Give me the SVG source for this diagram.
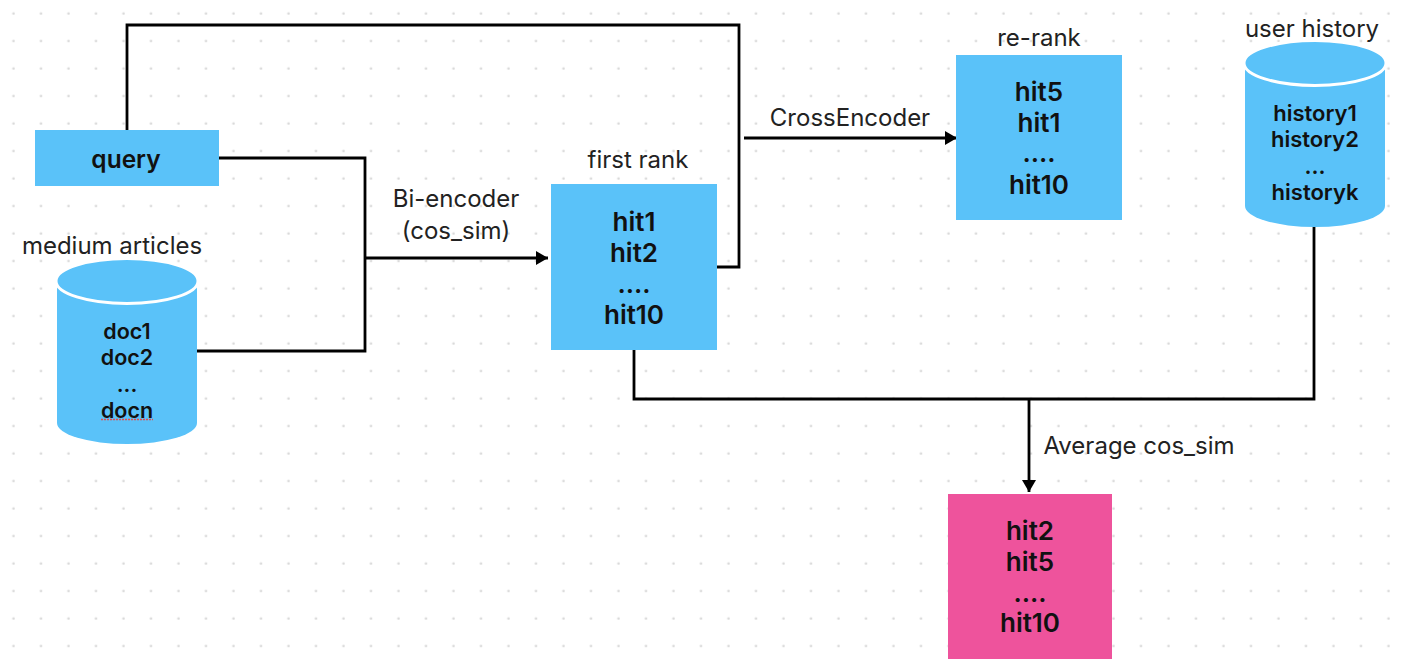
<svg xmlns="http://www.w3.org/2000/svg" width="1402" height="662" viewBox="0 0 1402 662">
<style>
text{font-family:Inter,"Liberation Sans",sans-serif;text-anchor:middle;fill:#111}
.b{font-weight:600;font-size:26px}
.q{font-weight:600;font-size:24.5px}
.l{font-size:24px;fill:#222}
.c{font-weight:600;font-size:21.500px}
.h{font-weight:600;font-size:22px}
.blue{fill:#5ac2f9}
.line{fill:none;stroke:#000;stroke-width:2.8}
</style>
<defs>
<pattern id="dots" width="27.5" height="27.5" patternUnits="userSpaceOnUse" x="0" y="0"><circle cx="13.5" cy="13.5" r="1.3" fill="#d8d8d8"/></pattern>
<marker id="arrow" markerUnits="userSpaceOnUse" markerWidth="14" markerHeight="15" refX="12" refY="7" orient="auto"><path d="M0 0L12 7L0 14Z" fill="#000"/></marker>
</defs>
<rect width="1402" height="662" fill="#fff"/>
<rect id="grid" width="1402" height="662" fill="url(#dots)"/>
<g id="connectors">
<path class="line" d="M127 130V25H739V267H716"/>
<path class="line" d="M219 158H365V351H196"/>
<path class="line" d="M365 258H548" marker-end="url(#arrow)"/>
<path class="line" d="M744 138H957" marker-end="url(#arrow)"/>
<path class="line" d="M634 350V399H1314V226"/>
<path class="line" d="M1029 399V492" marker-end="url(#arrow)"/>
</g>
<g id="query"><rect class="blue" x="35" y="130" width="184" height="56"/><text class="q" x="126" y="168">query</text></g>
<g id="medium-articles">
<text class="l" x="112" y="254">medium articles</text>
<path class="blue" d="M57 281V423A70 21 0 0 0 197 423V281Z"/>
<ellipse class="blue" cx="127" cy="281" rx="71" ry="22.500" stroke="#fff" stroke-width="3"/>
<text class="c" x="127" y="339">doc1</text><text class="c" x="127" y="365">doc2</text><text class="c" x="127" y="392">...</text><text class="c" x="127" y="418">docn</text>
<path d="M101 419.500H153" fill="none" stroke="#e0504f" stroke-width="1.500" stroke-dasharray="2 1"/>
</g>
<g id="user-history">
<text class="l" x="1312" y="37">user history</text>
<path class="blue" d="M1245 63V206A70 21 0 0 0 1385 206V63Z"/>
<ellipse class="blue" cx="1315" cy="63" rx="71" ry="22.500" stroke="#fff" stroke-width="3"/>
<text class="h" x="1315" y="121">history1</text><text class="h" x="1315" y="147">history2</text><text class="h" x="1315" y="174">...</text><text class="h" x="1315" y="200">historyk</text>
</g>
<g id="first-rank">
<text class="l" x="638" y="168">first rank</text>
<rect class="blue" x="551" y="184" width="166" height="166"/>
<text class="b" x="634" y="231">hit1</text><text class="b" x="634" y="262">hit2</text><text class="b" x="634" y="293">....</text><text class="b" x="634" y="324">hit10</text>
</g>
<g id="re-rank">
<text class="l" x="1039" y="46">re-rank</text>
<rect class="blue" x="956" y="55" width="166" height="165"/>
<text class="b" x="1039" y="101">hit5</text><text class="b" x="1039" y="132">hit1</text><text class="b" x="1039" y="162">....</text><text class="b" x="1039" y="194">hit10</text>
</g>
<g id="final">
<rect x="948" y="494" width="164" height="165" fill="#ee539c"/>
<text class="b" x="1030" y="540">hit2</text><text class="b" x="1030" y="571">hit5</text><text class="b" x="1030" y="602">....</text><text class="b" x="1030" y="632">hit10</text>
</g>
<g id="labels">
<text class="l" x="456" y="207">Bi-encoder</text><text class="l" x="456" y="239">(cos_sim)</text>
<text class="l" x="850" y="126">CrossEncoder</text>
<text class="l" x="1139" y="454">Average cos_sim</text>
</g>
</svg>
